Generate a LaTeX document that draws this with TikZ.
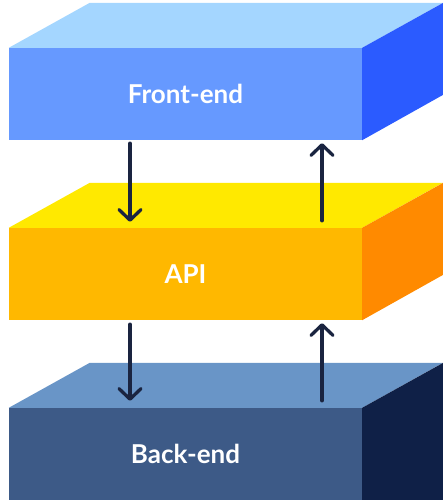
\documentclass[tikz,border=0pt]{standalone}
\usepackage{fontspec}
\setmainfont{Lato}
\usetikzlibrary{calc,arrows.meta}
\definecolor{feface}{HTML}{6699FF}
\definecolor{fetop}{HTML}{A4D6FF}
\definecolor{feside}{HTML}{2B5BFF}
\definecolor{apiface}{HTML}{FFB800}
\definecolor{apitop}{HTML}{FFE900}
\definecolor{apiside}{HTML}{FF8A00}
\definecolor{beface}{HTML}{3D5A87}
\definecolor{betop}{HTML}{6995C7}
\definecolor{beside}{HTML}{0F2047}
\definecolor{flowc}{HTML}{1A2440}
\tikzset{
layer/.style={minimum width=353pt,minimum height=92pt,inner sep=0pt,
  text=white,font=\bfseries\fontsize{26}{30}\selectfont},
flow/.style={draw=flowc,line width=3.3pt,line cap=round,
  -{Straight Barb[length=10.5pt,width=22pt,round]}}
}
\begin{document}
\begin{tikzpicture}[x=1pt,y=1pt]
\useasboundingbox (0,0) rectangle (443,500);
\clip (0,0) rectangle (443,500);
% front-end
\node[layer,fill=feface] (fe) at (185.5,406) {Front-end};
\fill[fetop] (fe.north west) -- ++(81,45) -- ++(353,0) -- (fe.north east) -- cycle;
\fill[feside] (fe.north east) -- ++(81,45) -- ++(0,-92) -- (fe.south east) -- cycle;
% api
\node[layer,fill=apiface] (api) at (185.5,226) {API};
\fill[apitop] (api.north west) -- ++(81,45) -- ++(353,0) -- (api.north east) -- cycle;
\fill[apiside] (api.north east) -- ++(81,45) -- ++(0,-92) -- (api.south east) -- cycle;
% back-end
\node[layer,fill=beface] (be) at (185.5,46) {Back-end};
\fill[betop] (be.north west) -- ++(81,45) -- ++(353,0) -- (be.north east) -- cycle;
\fill[beside] (be.north east) -- ++(81,45) -- ++(0,-200) -- ++(-81,-45) -- cycle;

\draw[flow] ([xshift=-55.5pt,yshift=-3pt]fe.south) -- ([xshift=-55.5pt,yshift=6pt]api.north);
\draw[flow] ([xshift=136.5pt,yshift=7pt]api.north) -- ([xshift=136.5pt,yshift=-3pt]fe.south);
\draw[flow] ([xshift=-55.5pt,yshift=-4pt]api.south) -- ([xshift=-55.5pt,yshift=7pt]be.north);
\draw[flow] ([xshift=136.5pt,yshift=7pt]be.north) -- ([xshift=136.5pt,yshift=-3pt]api.south);
\end{tikzpicture}
\end{document}
